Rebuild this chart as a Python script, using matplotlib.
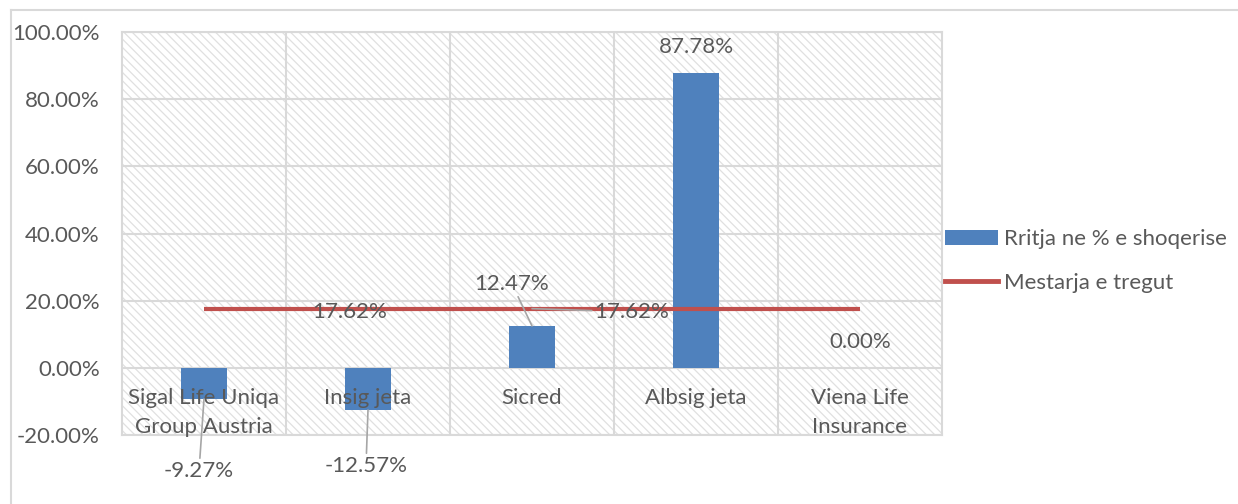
import matplotlib.pyplot as plt
from matplotlib.patches import Rectangle, Patch
from matplotlib.lines import Line2D
from matplotlib.ticker import FuncFormatter

# =========================
# Data
# =========================

categories = ["Sigal Life Uniqa\nGroup Austria", "Insig jeta", "Sicred",
              "Albsig jeta", "Viena Life\nInsurance"]
growth = [-9.27, -12.57, 12.47, 87.78, 0.00]
market_avg = [17.62, 17.62, 17.62, 17.62, 17.62]

bar_name = "Rritja ne % e shoqerise"
line_name = "Mestarja e tregut"

BLUE = "#4F81BD"
RED = "#C0504D"
TEXT = "#595959"
GRID = "#d9d9d9"
FS = 16

plt.rcParams['font.family'] = ['Lato', 'DejaVu Sans']
plt.rcParams['hatch.color'] = "#e0e0e0"
plt.rcParams['hatch.linewidth'] = 0.9

fig = plt.figure(figsize=(12.38, 5.04), dpi=100)
ax = fig.add_axes([122 / 1238, 1 - 435 / 504, 820 / 1238, 403 / 504])

# hatched background
ax.add_patch(Rectangle((0, 0), 1, 1, transform=ax.transAxes,
                       facecolor="white", edgecolor="#e0e0e0",
                       hatch="\\\\\\\\", linewidth=0, zorder=0))

x = list(range(len(categories)))

ax.bar(x, growth, width=0.28, color=BLUE, zorder=3)
ax.plot(x, market_avg, color=RED, linewidth=3, zorder=4,
        solid_capstyle='butt')

ax.set_xlim(-0.5, len(categories) - 0.5)
ax.set_ylim(-20, 100)
ax.set_yticks(range(-20, 101, 20))
ax.yaxis.set_major_formatter(FuncFormatter(lambda v, p: f"{v:.2f}%"))
ax.set_xticks([i + 0.5 for i in x[:-1]])
ax.set_xticklabels([])
ax.tick_params(axis='both', length=0, labelsize=FS, labelcolor=TEXT)
ax.tick_params(axis='y', pad=16)
ax.grid(True, color=GRID, linewidth=1.5, zorder=1)
ax.set_axisbelow(True)
for s in ax.spines.values():
    s.set_color(GRID)
    s.set_linewidth(1.5)

# category labels inside the plot area, below zero
for i, name in enumerate(categories):
    ax.annotate(name, xy=(i, 0), xytext=(0, -20), textcoords='offset pixels',
                ha='center', va='top', fontsize=FS, color=TEXT,
                linespacing=1.55, zorder=5)

# =========================
# Data labels
# =========================

leader = dict(arrowstyle='-', color='#a6a6a6', linewidth=1.2,
              shrinkA=0, shrinkB=0)

label_offsets = [(-5, -72), (-2, -56), (-20, 42), (0, 26), (0, 26)]
for i, v in enumerate(growth):
    dx, dy = label_offsets[i]
    use_leader = abs(dy) > 30
    ax.annotate(f"{v:.2f}%", xy=(i, v), xytext=(dx, dy),
                textcoords='offset pixels', ha='center', va='center',
                fontsize=FS, color=TEXT, annotation_clip=False, zorder=6,
                arrowprops=leader if use_leader else None)

ax.annotate(f"{market_avg[1]:.2f}%", xy=(1, market_avg[1]), xytext=(-18, -3),
            textcoords='offset pixels', ha='center', va='center',
            fontsize=FS, color=TEXT, zorder=6)
ax.annotate(f"{market_avg[2]:.2f}%", xy=(2, market_avg[2]), xytext=(100, -3),
            textcoords='offset pixels', ha='center', va='center',
            fontsize=FS, color=TEXT, zorder=6,
            arrowprops=dict(leader, relpos=(0, 0.55)))

# =========================
# Legend
# =========================

handles = [Patch(facecolor=BLUE, edgecolor='none'),
           Line2D([0], [0], color=RED, linewidth=3.5)]
fig.legend(handles, [bar_name, line_name], loc='center left',
           bbox_to_anchor=(945 / 1238, 1 - 261 / 504), frameon=False,
           fontsize=FS, labelcolor=TEXT, handlelength=2.4, handleheight=0.6,
           handletextpad=0.27, labelspacing=1.05, borderaxespad=0,
           borderpad=0)

# chart frame
fig.add_artist(Line2D([11 / 1238, 1], [1 - 10 / 504, 1 - 10 / 504],
                      color=GRID, linewidth=1.5))
fig.add_artist(Line2D([11 / 1238, 11 / 1238], [0, 1 - 10 / 504],
                      color=GRID, linewidth=1.5))

fig.savefig("out.png", dpi=100)
